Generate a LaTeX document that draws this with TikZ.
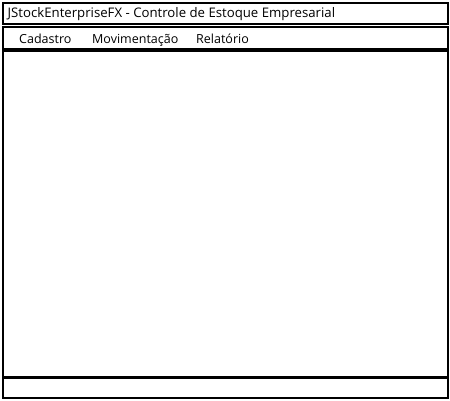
\documentclass[tikz,border=0pt]{standalone}
\usepackage{fontspec}
\setmainfont{Open Sans}
\begin{document}
\begin{tikzpicture}[x=1pt,y=-1pt,
  panel/.style={draw=black,line width=1.6pt,fill=white,anchor=north west,inner sep=0pt,minimum width=445pt},
  lbl/.style={anchor=base west,inner sep=0pt,font=\fontsize{12.5}{14}\selectfont}]
\useasboundingbox[fill=white] (0,0) rectangle (450,400);
\node[panel,minimum height=21pt] (title) at (2,2) {};
\node[panel,minimum height=22pt] (menu) at (2,26) {};
\node[panel,minimum height=326pt] (main) at (2,50) {};
\node[panel,minimum height=20pt] (status) at (2,377) {};
\node[lbl,font=\fontsize{13.2}{15}\selectfont] (ttext) at (7.5,17) {JStockEnterpriseFX - Controle de Estoque Empresarial};
\node[lbl] (m1) at (19,43) {Cadastro};
\node[lbl] (m2) at (92,43) {Movimentação};
\node[lbl] (m3) at (196,43) {Relatório};
\end{tikzpicture}
\end{document}
